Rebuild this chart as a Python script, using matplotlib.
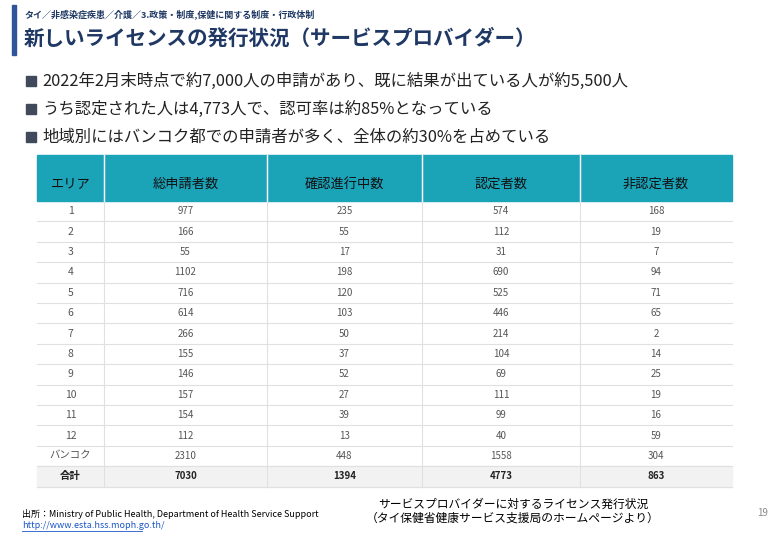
import matplotlib
matplotlib.use("Agg")
import matplotlib.pyplot as plt
from matplotlib.patches import Rectangle

plt.rcParams["font.family"] = ["Noto Sans CJK JP", "DejaVu Sans"]

areas = ["1", "2", "3", "4", "5", "6", "7", "8", "9", "10", "11", "12", "バンコク", "合計"]
total_applicants = [977, 166, 55, 1102, 716, 614, 266, 155, 146, 157, 154, 112, 2310, 7030]
in_review = [235, 55, 17, 198, 120, 103, 50, 37, 52, 27, 39, 13, 448, 1394]
approved = [574, 112, 31, 690, 525, 446, 214, 104, 69, 111, 99, 40, 1558, 4773]
rejected = [168, 19, 7, 94, 71, 65, 2, 14, 25, 19, 16, 59, 304, 863]
headers = ["エリア", "総申請者数", "確認進行中数", "認定者数", "非認定者数"]
bullets = ["2022年2月末時点で約7,000人の申請があり、既に結果が出ている人が約5,500人",
           "うち認定された人は4,773人で、認可率は約85%となっている",
           "地域別にはバンコク都での申請者が多く、全体の約30%を占めている"]

fig = plt.figure(figsize=(7.8, 5.4), dpi=100)
ax = fig.add_axes([0, 0, 1, 1])
ax.set_xlim(0, 780); ax.set_ylim(540, 0); ax.axis("off")

navy = "#1f3864"
ax.add_patch(Rectangle((12, 5), 4, 50, color="#2e5597"))
ax.text(24, 14, "タイ／非感染症疾患／介護／3.政策・制度,保健に関する制度・行政体制",
        fontsize=6.5, color=navy, va="center", weight="bold")
ax.text(24, 38, "新しいライセンスの発行状況（サービスプロバイダー）",
        fontsize=14.8, color=navy, va="center", weight="bold")
for i, b in enumerate(bullets):
    y = 81 + i * 28
    ax.add_patch(Rectangle((26, y - 5), 10, 10, color="#404a5a"))
    ax.text(42, y, b, fontsize=11.8, va="center", color="#222222")

# table
xs = [37, 104, 267, 422, 580, 732]
top, hh, rh = 155, 46, 20.4
ax.add_patch(Rectangle((xs[0], top), xs[-1] - xs[0], hh, color="#1ba3b8"))
for j, h in enumerate(headers):
    cx = (xs[j] + xs[j + 1]) / 2
    ax.text(cx, top + 29, h, fontsize=9.5, ha="center", va="center", color="#111111")
for x in xs[1:-1]:
    ax.plot([x, x], [top, top + hh + rh * len(areas)], color="#e0e0e0", lw=0.8)
    ax.plot([x, x], [top, top + hh], color="white", lw=1)
ax.add_patch(Rectangle((xs[0], top + hh + rh * (len(areas) - 1)), xs[-1] - xs[0], rh, color="#f2f2f2", zorder=0))
for i in range(len(areas)):
    y0 = top + hh + rh * i
    if i > 0:
        ax.plot([xs[0], xs[-1]], [y0, y0], color="#e0e0e0", lw=0.8)
    cy = y0 + rh / 2
    vals = [areas[i], total_applicants[i], in_review[i], approved[i], rejected[i]]
    bold = i == len(areas) - 1
    for j, v in enumerate(vals):
        cx = (xs[j] + xs[j + 1]) / 2
        ax.text(cx, cy, str(v), fontsize=7 if j else 7.5, ha="center", va="center",
                color="#555555" if not bold else "#222222", weight="bold" if bold else "normal")
yb = top + hh + rh * len(areas)
ax.plot([xs[0], xs[-1]], [yb, yb], color="#e0e0e0", lw=0.8)

ax.text(22, 514, "出所：Ministry of Public Health, Department of Health Service Support", fontsize=6.5, va="center")
ax.text(22, 526, "http://www.esta.hss.moph.go.th/", fontsize=6.5, va="center", color="#1a56c8")
ax.plot([22, 142], [531, 531], color="#1a56c8", lw=0.6)
ax.text(513, 504, "サービスプロバイダーに対するライセンス発行状況", fontsize=8.5, ha="center", va="center")
ax.text(513, 518, "（タイ保健省健康サービス支援局のホームページより）", fontsize=8.5, ha="center", va="center")
ax.text(768, 513, "19", fontsize=7, ha="right", va="center", color="#888888")
fig.savefig("out.png", dpi=100)
